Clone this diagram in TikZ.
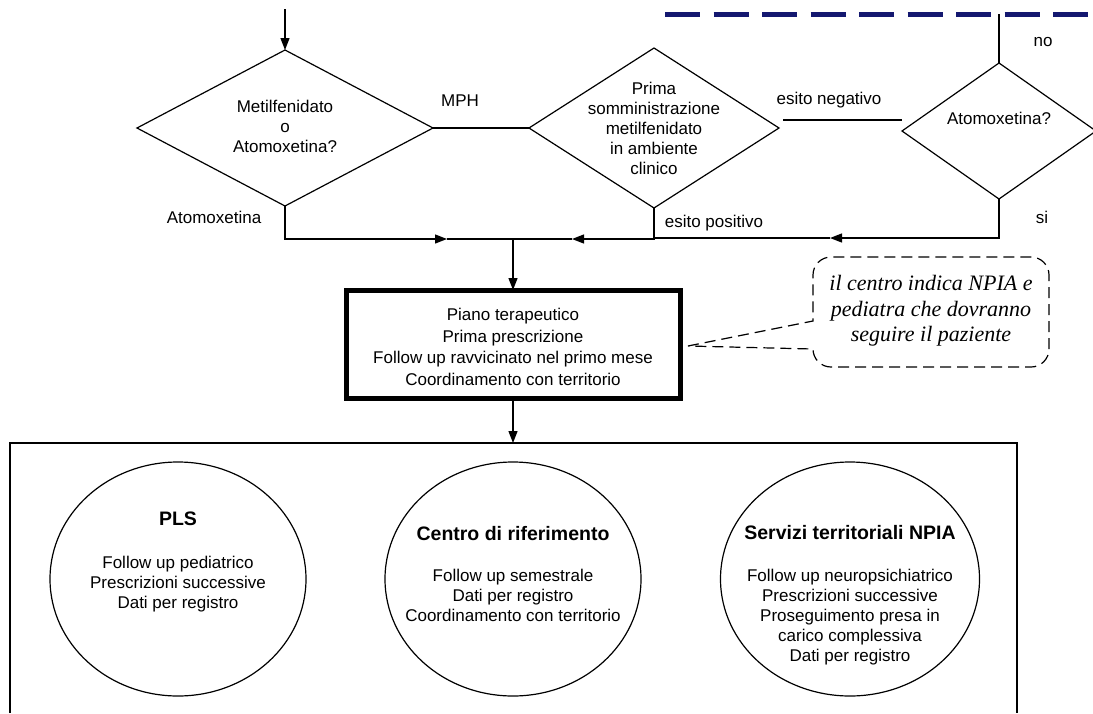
\documentclass[tikz,border=0pt]{standalone}
\usepackage{fontspec}
\setmainfont{Liberation Sans}
\newfontfamily\notefont{Liberation Serif}
\usetikzlibrary{shapes.geometric,arrows.meta,calc}
\definecolor{navyline}{RGB}{20,24,112}
\begin{document}
\begin{tikzpicture}[x=1pt,y=-1pt,
  every node/.style={inner sep=0pt, outer sep=0pt},
  txt/.style={font=\fontsize{17}{20}\selectfont, align=center},
  ttl/.style={font=\fontsize{19.5}{22}\selectfont\bfseries, align=center},
  notetxt/.style={font=\notefont\itshape\fontsize{22}{25.5}\selectfont, align=center},
  dshape/.style={diamond, draw, line width=1.2pt},
  conn/.style={line width=1.3pt},
  arr/.style={conn, -{Triangle[length=12pt,width=9pt]}},
  thickbox/.style={rectangle, draw, line width=5pt, minimum width=334, minimum height=108},
  oval/.style={ellipse, draw, line width=1.2pt, minimum width=256, minimum height=234},
  callout/.style={line width=1.2pt, dash pattern=on 11pt off 6pt}
]
\useasboundingbox (0,0) rectangle (1093,713);
\fill[white] (0,0) rectangle (1093,713);

% dashed blue border fragment
\draw[navyline, line width=5pt, dash pattern=on 35pt off 13.5pt] (665,14) -- (1093,14);

% diamonds
\node[dshape, minimum width=296, minimum height=156] (d1) at (285,128) {};
\node[txt] at (285,126) {Metilfenidato\\o\\Atomoxetina?};
\node[dshape, minimum width=250, minimum height=160] (d2) at (654,128) {};
\node[txt] at (654,128) {Prima\\somministrazione\\metilfenidato\\in ambiente\\clinico};
\node[dshape, minimum width=194, minimum height=136] (d3) at (999,131) {};
\node[txt] at (999,118) {Atomoxetina?};

% labels
\node[txt] (lmph) at (460,101) {MPH};
\node[txt] (latom) at (214,217) {Atomoxetina};
\node[txt] (lneg) at (829,100) {esito negativo};
\node[txt] (lpos) at (714,223) {esito positivo};
\node[txt] (lno) at (1043,42) {no};
\node[txt] (lsi) at (1042,217) {si};

% top arrow and top connector
\coordinate (start) at (285,9);
\coordinate (nt) at (999,14);
\draw[arr] (start) -- (d1.north);
\draw[conn] (nt) -- (d3.north);

% horizontal connectors
\draw[conn] (d1.east) -- (d2.west);
\draw[conn] ($(d2.east)+(4,-8)$) -- ($(d3.west)+(0,-11)$);

\coordinate (j) at (513,239);
\coordinate (a1) at (447,239);
\coordinate (a2) at (572,239);
\coordinate (a3) at (830,238);
\coordinate (b2) at (654,238);
\draw[arr] (d1.south) |- (a1);
\draw[conn] (a1) -- (j);
\draw[arr] (d2.south) |- (a2);
\draw[conn] (a2) -- (j);
\draw[arr] (d3.south) |- (a3);
\draw[conn] (a3) -- (b2);

% central box
\node[thickbox] (box) at (513,344) {};
\node[txt, font=\fontsize{17}{21.5}\selectfont] at (513,347) {Piano terapeutico\\Prima prescrizione\\Follow up ravvicinato nel primo mese\\Coordinamento con territorio};
\draw[arr] (j) -- (box.north);

% callout
\coordinate (tip) at ($(box.east)+(8,2)$);
\draw[callout] (tip) -- (813,321) -- (813,275)
  arc[start angle=180, end angle=270, radius=18] -- (1031,257)
  arc[start angle=270, end angle=360, radius=18] -- (1049,349)
  arc[start angle=0, end angle=90, radius=18] -- (831,367)
  arc[start angle=90, end angle=180, radius=18] -- cycle;
\node[notetxt] (note) at (931,311) {il centro indica NPIA e\\pediatra che dovranno\\seguire il paziente};

% outer frame
\coordinate (fr) at (513,443);
\draw[arr] (box.south) -- (fr);
\draw[line width=1.3pt] (10,713) -- (10,443) -- (1017,443) -- (1017,713);

% ovals
\node[oval] (pls) at (178,579) {};
\node[ttl] at (178,519) {PLS};
\node[txt] at (178,584) {Follow up pediatrico\\Prescrizioni successive\\Dati per registro};

\node[oval] (cdr) at (513,579) {};
\node[ttl] at (513,534) {Centro di riferimento};
\node[txt] at (513,595) {Follow up semestrale\\Dati per registro\\Coordinamento con territorio};

\node[oval, minimum width=259] (stn) at (850,579) {};
\node[ttl] at (850,533) {Servizi territoriali NPIA};
\node[txt] at (850,617) {Follow up neuropsichiatrico\\Prescrizioni successive\\Proseguimento presa in\\carico complessiva\\Dati per registro};
\end{tikzpicture}
\end{document}
